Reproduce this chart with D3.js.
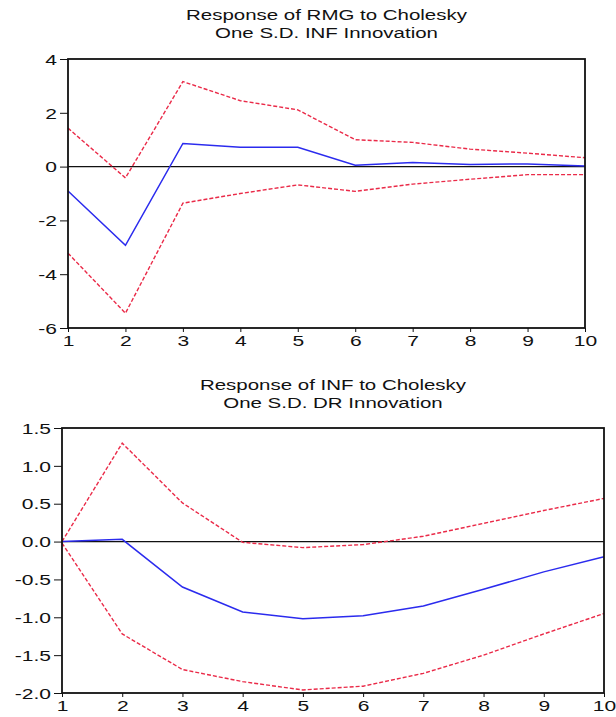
<!DOCTYPE html>
<html>
<head>
<meta charset="utf-8">
<script src="https://cdn.jsdelivr.net/npm/d3@7"></script>
<style>
  html, body { margin: 0; padding: 0; background: #fff; }
  text { font-family: "Liberation Sans", Arial, sans-serif; fill: #111; }
</style>
</head>
<body>
<svg id="chart" width="616" height="717"></svg>
<script>
// periods on the x axis
const periods = [1, 2, 3, 4, 5, 6, 7, 8, 9, 10]

// Response of RMG to Cholesky One S.D. INF Innovation
const rmgResponse = [-0.91, -2.93, 0.86, 0.72, 0.72, 0.05, 0.15, 0.08, 0.10, 0.02]
const rmgUpper = [1.43, -0.42, 3.16, 2.45, 2.11, 1.00, 0.90, 0.65, 0.50, 0.33]
const rmgLower = [-3.22, -5.45, -1.36, -1.00, -0.68, -0.92, -0.65, -0.47, -0.30, -0.30]
const rmgTicks = [-6, -4, -2, 0, 2, 4]

// Response of INF to Cholesky One S.D. DR Innovation
const infResponse = [0.00, 0.03, -0.60, -0.93, -1.02, -0.98, -0.85, -0.63, -0.40, -0.20]
const infUpper = [0.00, 1.30, 0.51, -0.01, -0.08, -0.04, 0.07, 0.24, 0.41, 0.57]
const infLower = [-0.02, -1.22, -1.69, -1.85, -1.96, -1.91, -1.74, -1.50, -1.22, -0.95]
const infTicks = [-2.0, -1.5, -1.0, -0.5, 0.0, 0.5, 1.0, 1.5]

const svg = d3.select("#chart")
const blue = "#2b2bee"
const red = "#ea2a48"

// plain hyphen for negative numbers, like the original
const locale = d3.formatLocale({ decimal: ".", thousands: ",", grouping: [3], currency: ["$", ""], minus: "-" })

// stretch text horizontally, the original picture is wider than tall
function stretch(sel, factor) {
  sel.each(function () {
    const w = this.getComputedTextLength()
    d3.select(this).attr("textLength", w * factor).attr("lengthAdjust", "spacingAndGlyphs")
  })
}

function drawPanel(p) {
  const x = d3.scaleLinear().domain([1, 10]).range([p.left, p.right])
  const y = d3.scaleLinear().domain([p.ticks[0], p.ticks[p.ticks.length - 1]]).range([p.bottom, p.top])
  const g = svg.append("g")

  // title, two lines
  const cx = (p.left + p.right) / 2
  p.title.forEach(function (t, i) {
    g.append("text")
      .attr("x", cx)
      .attr("y", p.titleY + i * 17.5)
      .attr("text-anchor", "middle")
      .style("font-size", "15.5px")
      .text(t)
      .call(stretch, 1.32)
  })

  // y axis
  const yAxis = g.append("g")
    .attr("transform", "translate(" + p.left + ",0)")
    .call(d3.axisLeft(y).tickValues(p.ticks).tickFormat(p.fmt).tickSize(8).tickPadding(3))
  yAxis.select(".domain").remove()
  yAxis.selectAll("line").attr("stroke", "#111")
  yAxis.selectAll("text")
    .style("font-size", "14.5px")
    .attr("fill", "#111")
    .attr("dy", "0.36em")
    .call(stretch, 1.45)

  // x axis
  const xAxis = g.append("g")
    .attr("transform", "translate(0," + p.bottom + ")")
    .call(d3.axisBottom(x).tickValues(periods).tickFormat(locale.format("d")).tickSize(4).tickPadding(4))
  xAxis.select(".domain").remove()
  xAxis.selectAll("line").attr("stroke", "#111")
  xAxis.selectAll("text")
    .style("font-size", "14.5px")
    .attr("fill", "#111")
    .call(stretch, 1.45)

  // zero line
  g.append("line")
    .attr("x1", p.left).attr("x2", p.right)
    .attr("y1", y(0)).attr("y2", y(0))
    .attr("stroke", "#111")
    .attr("stroke-width", 1.2)

  const line = d3.line()
    .x(function (d, i) { return x(periods[i]) })
    .y(function (d) { return y(d) })

  g.append("path").datum(p.upper)
    .attr("d", line).attr("fill", "none")
    .attr("stroke", red).attr("stroke-width", 1.4)
    .attr("stroke-dasharray", "4,2")
  g.append("path").datum(p.lower)
    .attr("d", line).attr("fill", "none")
    .attr("stroke", red).attr("stroke-width", 1.4)
    .attr("stroke-dasharray", "4,2")
  g.append("path").datum(p.response)
    .attr("d", line).attr("fill", "none")
    .attr("stroke", blue).attr("stroke-width", 1.5)

  // frame
  g.append("rect")
    .attr("x", p.left).attr("y", p.top)
    .attr("width", p.right - p.left).attr("height", p.bottom - p.top)
    .attr("fill", "none")
    .attr("stroke", "#111")
    .attr("stroke-width", 1.8)
}

drawPanel({
  title: ["Response of RMG to Cholesky", "One S.D. INF Innovation"],
  titleY: 20,
  left: 68, right: 585, top: 59, bottom: 328,
  ticks: rmgTicks, fmt: locale.format("d"),
  response: rmgResponse, upper: rmgUpper, lower: rmgLower
})

drawPanel({
  title: ["Response of INF to Cholesky", "One S.D. DR Innovation"],
  titleY: 390,
  left: 62, right: 604, top: 428, bottom: 693,
  ticks: infTicks, fmt: locale.format(".1f"),
  response: infResponse, upper: infUpper, lower: infLower
})
</script>
</body>
</html>
